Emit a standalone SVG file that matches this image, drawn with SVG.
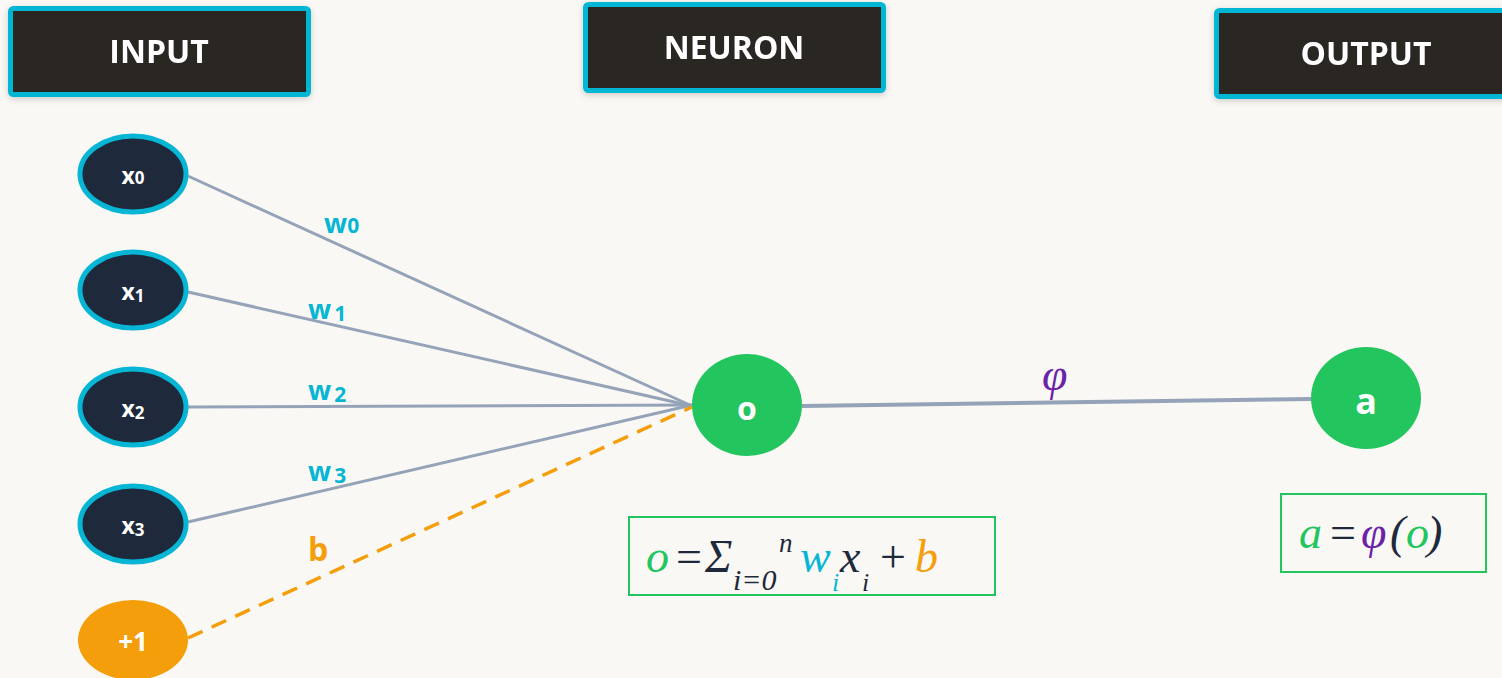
<svg xmlns="http://www.w3.org/2000/svg" width="1502" height="678" viewBox="0 0 1502 678">
  <defs>
    <filter id="sh" x="-10%" y="-20%" width="120%" height="150%">
      <feDropShadow dx="0" dy="2" stdDeviation="3" flood-color="#000" flood-opacity="0.18"/>
    </filter>
  </defs>
  <style>
    .hdr rect { fill: #292524; stroke: #06b6d4; stroke-width: 5; }
    .hdr text { font-family: "Open Sans", "Liberation Sans", sans-serif; font-weight: 700; font-size: 32px; fill: #ffffff; text-anchor: middle; }
    .in ellipse { fill: #1e293b; stroke: #06b6d4; stroke-width: 5; }
    .lbl { font-family: "Open Sans", "Liberation Sans", sans-serif; font-weight: 700; fill: #ffffff; text-anchor: middle; }
    .edge { stroke: #94a3b8; stroke-width: 3; fill: none; }
    .wl { font-family: "Open Sans", "Liberation Sans", sans-serif; font-weight: 700; font-size: 27px; fill: #06b6d4; }
    .math { font-family: "Liberation Serif", "DejaVu Serif", serif; font-style: italic; font-size: 46px; }
    .box { fill: none; stroke: #22c55e; stroke-width: 2; }
  </style>
  <rect width="1502" height="678" fill="#faf8f4"/>

  <g id="hdr-input" class="hdr" filter="url(#sh)">
    <rect x="10.500" y="8.500" width="298" height="86" rx="3"/>
    <text x="159" y="63">INPUT</text>
  </g>
  <g id="hdr-neuron" class="hdr" filter="url(#sh)">
    <rect x="585.500" y="4.500" width="298" height="86" rx="3"/>
    <text x="734" y="59">NEURON</text>
  </g>
  <g id="hdr-output" class="hdr" filter="url(#sh)">
    <rect x="1216.500" y="10.500" width="300" height="86" rx="3"/>
    <text x="1366" y="65">OUTPUT</text>
  </g>

  <g id="connectors">
    <line class="edge" x1="188" y1="176" x2="692" y2="406"/>
    <line class="edge" x1="188" y1="292" x2="692" y2="406"/>
    <line class="edge" x1="188" y1="407" x2="692" y2="405"/>
    <line class="edge" x1="188" y1="522" x2="692" y2="405"/>
    <line x1="188" y1="638" x2="692" y2="407" stroke="#f59e0b" stroke-width="3.500" stroke-dasharray="16 10"/>
    <line x1="802" y1="406" x2="1312" y2="399" stroke="#94a3b8" stroke-width="4"/>
    <text class="wl" x="324" y="233">w<tspan font-size="21">0</tspan></text>
    <text class="wl" x="308" y="319">w<tspan font-size="21" dx="3" dy="2">1</tspan></text>
    <text class="wl" x="308" y="400">w<tspan font-size="21" dx="3" dy="2">2</tspan></text>
    <text class="wl" x="308" y="481">w<tspan font-size="21" dx="3" dy="2">3</tspan></text>
    <text x="308" y="561" font-family="'Open Sans', 'Liberation Sans', sans-serif" font-weight="700" font-size="32" fill="#f59e0b">b</text>
    <text class="math" x="1042" y="390" fill="#6b21a8" font-size="44">φ</text>
  </g>

  <g id="x0" class="in">
    <ellipse cx="133" cy="174" rx="53" ry="38"/>
    <text class="lbl" x="133" y="184" font-size="23">x<tspan font-size="17">0</tspan></text>
  </g>
  <g id="x1" class="in">
    <ellipse cx="133" cy="290" rx="53" ry="38"/>
    <text class="lbl" x="133" y="300" font-size="23">x<tspan font-size="17" dy="2">1</tspan></text>
  </g>
  <g id="x2" class="in">
    <ellipse cx="133" cy="407" rx="53" ry="38"/>
    <text class="lbl" x="133" y="417" font-size="23">x<tspan font-size="17" dy="2">2</tspan></text>
  </g>
  <g id="x3" class="in">
    <ellipse cx="133" cy="524" rx="53" ry="38"/>
    <text class="lbl" x="133" y="534" font-size="23">x<tspan font-size="17" dy="2">3</tspan></text>
  </g>
  <g id="bias">
    <ellipse cx="133" cy="640" rx="55" ry="40" fill="#f59e0b"/>
    <text class="lbl" x="133" y="651" font-size="26">+1</text>
  </g>

  <g id="neuron-o">
    <ellipse cx="747" cy="405" rx="55" ry="51" fill="#22c55e"/>
    <text class="lbl" x="747" y="420" font-size="32">o</text>
  </g>
  <g id="output-a">
    <ellipse cx="1366" cy="398" rx="55" ry="51" fill="#22c55e"/>
    <text class="lbl" x="1366" y="414" font-size="36">a</text>
  </g>

  <g id="formula-o">
    <rect class="box" x="629" y="517" width="366" height="78"/>
    <text class="math" fill="#1e293b"><tspan x="646" y="572" fill="#22c55e">o</tspan><tspan x="676" y="572" font-style="normal">=</tspan><tspan x="705" y="572">Σ</tspan><tspan x="733" y="590" font-size="30">i=0</tspan><tspan x="779" y="552" font-size="27">n</tspan><tspan x="800" y="572" fill="#06b6d4">w</tspan><tspan x="832" y="591" font-size="26" fill="#06b6d4">i</tspan><tspan x="840" y="572">x</tspan><tspan x="862" y="591" font-size="26">i</tspan><tspan x="880" y="572" font-style="normal">+</tspan><tspan x="915" y="572" fill="#f59e0b">b</tspan></text>
  </g>
  <g id="formula-a">
    <rect class="box" x="1281" y="494" width="205" height="78"/>
    <text class="math" fill="#1e293b"><tspan x="1299" y="548" fill="#22c55e">a</tspan><tspan x="1330" y="548" font-style="normal">=</tspan><tspan x="1361" y="548" fill="#6b21a8">φ</tspan><tspan x="1390" y="548">(</tspan><tspan x="1406" y="548" fill="#22c55e">o</tspan><tspan x="1427" y="548">)</tspan></text>
  </g>
</svg>
